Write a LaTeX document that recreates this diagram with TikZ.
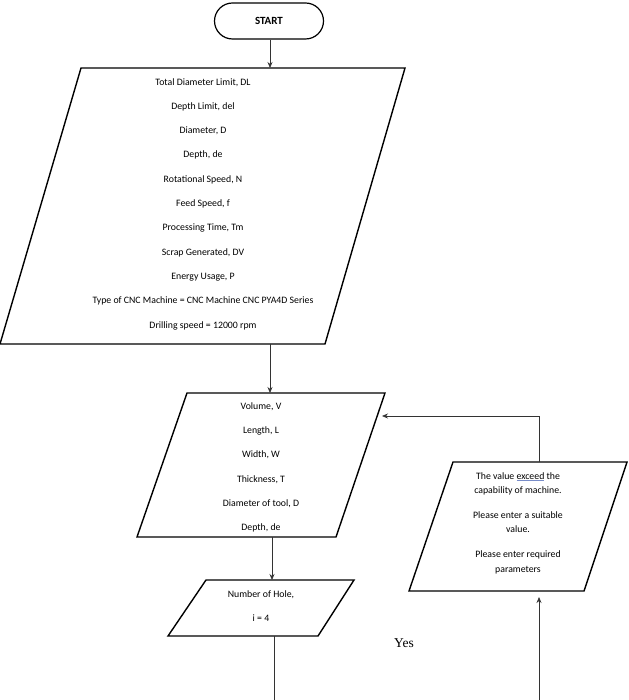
\documentclass[tikz,border=0pt]{standalone}
\usepackage{fontspec}
\setmainfont{Carlito}
\newfontfamily\yesfont{Liberation Serif}
\usetikzlibrary{arrows.meta}
\definecolor{spellblue}{RGB}{120,140,200}
\newsavebox\myulbox
\newcommand{\spellul}[1]{\sbox\myulbox{#1}\rlap{\textcolor{spellblue}{\rule[-1.8pt]{\wd\myulbox}{0.6pt}}}\usebox\myulbox}
\begin{document}
\begin{tikzpicture}[x=1pt,y=-1pt,
  box/.style={draw=black,line width=1.4pt,line join=miter},
  conn/.style={draw=black!80,line width=0.7pt,-{Stealth[length=6pt,width=5pt]}},
  plain/.style={draw=black!80,line width=0.7pt},
  txt/.style={align=center,inner sep=0pt,font=\fontsize{9.8}{24.3}\selectfont},
  txtr/.style={align=center,inner sep=0pt,font=\fontsize{9.8}{14.6}\selectfont}]
\useasboundingbox (0,0) rectangle (628,700);
% START
\node[draw=black,line width=1.2pt,rounded corners=18pt,minimum width=109pt,minimum height=36pt,inner sep=0pt,
  font=\fontsize{11}{13}\selectfont\bfseries] (start) at (269,21) {START};
% big input parallelogram
\coordinate (b1) at (81,68); \coordinate (b2) at (405,68);
\coordinate (b3) at (325,344); \coordinate (b4) at (0,344);
\draw[box] (b1) -- (b2) -- (b3) -- (b4) -- cycle;
\node[txt] (bigtext) at (203,204) {Total Diameter Limit, DL\\Depth Limit, del\\Diameter, D\\Depth, de\\Rotational Speed, N\\Feed Speed, f\\Processing Time, Tm\\Scrap Generated, DV\\Energy Usage, P\\Type of CNC Machine = CNC Machine CNC PYA4D Series\\Drilling speed = 12000 rpm};
% middle parallelogram
\coordinate (m1) at (187,393); \coordinate (m2) at (385,393);
\coordinate (m3) at (336,537); \coordinate (m4) at (137,537);
\draw[box] (m1) -- (m2) -- (m3) -- (m4) -- cycle;
\node[txt] (midtext) at (261,467.5) {Volume, V\\Length, L\\Width, W\\Thickness, T\\Diameter of tool, D\\Depth, de};
% small parallelogram
\coordinate (s1) at (206,580); \coordinate (s2) at (354,580);
\coordinate (s3) at (318,636); \coordinate (s4) at (168,636);
\draw[box] (s1) -- (s2) -- (s3) -- (s4) -- cycle;
\node[txt] (holetext) at (261,606) {Number of Hole,\\i = 4};
% right parallelogram
\coordinate (r1) at (453,462); \coordinate (r2) at (627,462);
\coordinate (r3) at (584,591); \coordinate (r4) at (409,591);
\draw[box] (r1) -- (r2) -- (r3) -- (r4) -- cycle;
\node[txtr] (errtext) at (518,523) {The value \spellul{exceed} the\\capability of machine.\\[10pt]Please enter a suitable\\value.\\[10pt]Please enter required\\parameters};
% Yes label
\node[inner sep=0pt,font=\yesfont\fontsize{13.5}{15}\selectfont] (yes) at (404,643) {Yes};
% connectors
\coordinate (bigtop) at (270,68); \coordinate (bigbot) at (270,344);
\coordinate (midtop) at (270,393); \coordinate (midbot) at (272,537);
\coordinate (smtop) at (272,580); \coordinate (smbot) at (274,636);
\coordinate (smend) at (274,700);
\coordinate (rtop) at (539,462); \coordinate (rcorner) at (539,416);
\coordinate (midright) at (382,416);
\coordinate (rbotend) at (539,597); \coordinate (rstart) at (539,700);
\draw[conn] (start.south -| bigtop) -- (bigtop);
\draw[conn] (bigbot) -- (midtop);
\draw[conn] (midbot) -- (smtop);
\draw[plain] (smbot) -- (smend);
\draw[conn] (rtop) -- (rcorner) -- (midright);
\draw[conn] (rstart) -- (rbotend);
\end{tikzpicture}
\end{document}
